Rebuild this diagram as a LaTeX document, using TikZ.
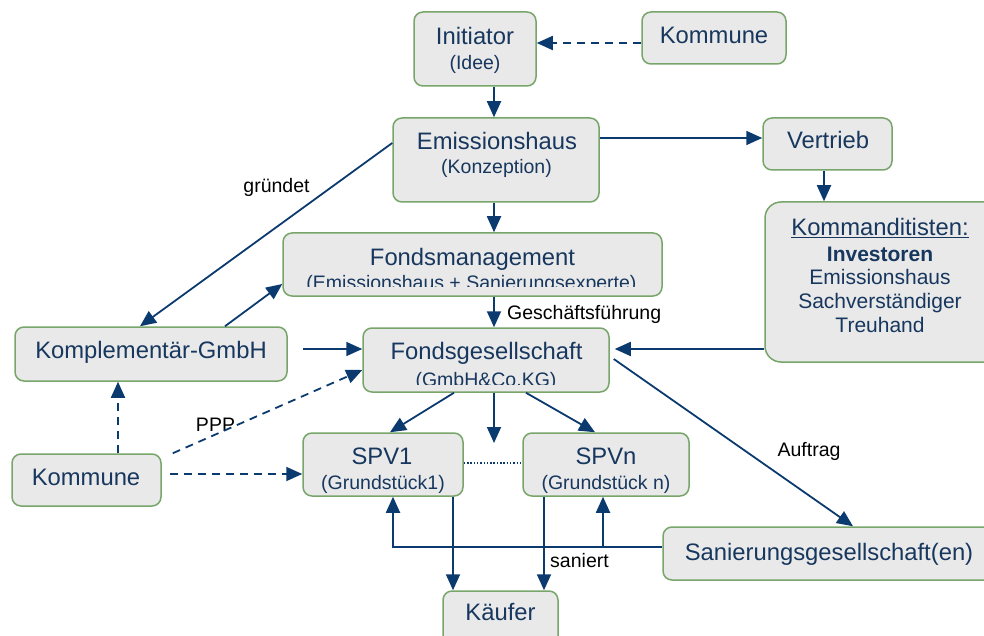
\documentclass[tikz,border=0pt]{standalone}
\usepackage{fontspec}
\setmainfont{Liberation Sans}
\usetikzlibrary{arrows.meta,calc}
\definecolor{navy}{HTML}{17375E}
\definecolor{arrowblue}{HTML}{0B3A6E}
\definecolor{boxgreen}{HTML}{77A56A}
\definecolor{boxgray}{HTML}{E9E9E9}
\tikzset{
  box/.style={draw=boxgreen, fill=boxgray, line width=1.5pt, rounded corners=9pt, inner sep=0pt},
  big/.style={text=navy, font=\fontsize{23.8}{28}\selectfont, inner sep=0pt, anchor=base},
  mid/.style={text=navy, font=\fontsize{21}{25}\selectfont, inner sep=0pt, anchor=base},
  small/.style={text=navy, font=\fontsize{19.5}{23}\selectfont, inner sep=0pt, anchor=base},
  lbl/.style={text=black, font=\fontsize{19.5}{23}\selectfont, inner sep=0pt, anchor=base},
  arr/.style={draw=arrowblue, line width=1.8pt, -{Triangle[length=16pt,width=14pt]}},
  dsh/.style={arr, dash pattern=on 8pt off 6pt},
  dotline/.style={draw=arrowblue, line width=1.2pt, dash pattern=on 1.5pt off 1.8pt},
}
\begin{document}
\begin{tikzpicture}[x=1pt,y=-1pt]
\useasboundingbox (0,0) rectangle (984,636);

% boxes
\node[box, minimum width=122pt, minimum height=74pt] (init) at (475,49) {};
\node[box, minimum width=144pt, minimum height=52pt] (kommT) at (714,38) {};
\node[box, minimum width=206pt, minimum height=84pt] (emis) at (496,160) {};
\node[box, minimum width=129pt, minimum height=52pt] (vert) at (827.5,144) {};
\node[box, minimum width=235pt, minimum height=160pt, rounded corners=16pt] (kmd) at (882.5,282) {};
\node[box, minimum width=379pt, minimum height=63pt] (fm) at (472.5,264.5) {};
\node[box, minimum width=246pt, minimum height=64pt] (fg) at (486,360) {};
\node[box, minimum width=272pt, minimum height=54pt] (kgmbh) at (151,354) {};
\node[box, minimum width=149pt, minimum height=52pt] (kommL) at (86.5,480) {};
\node[box, minimum width=160pt, minimum height=63pt] (spv1) at (383,464.5) {};
\node[box, minimum width=166pt, minimum height=63pt] (spvn) at (606,464.5) {};
\node[box, minimum width=115pt, minimum height=59pt] (kaeufer) at (500.5,620.5) {};
\node[box, minimum width=337pt, minimum height=53pt] (san) at (831.5,553.5) {};

% texts
\node[big] (tInit) at (475,45) {Initiator};
\node[small] (tIdee) at (475,70) {(Idee)};
\node[big] (tKommT) at (714,44) {Kommune};
\node[big] (tEmis) at (497,150) {Emissionshaus};
\node[small] (tKonz) at (496.5,174) {(Konzeption)};
\node[big] (tVert) at (828,149) {Vertrieb};
\node[big] (tKmd1) at (880,236) {\underline{Kommanditisten:}};
\node[mid, font=\fontsize{21}{25}\selectfont\bfseries] (tKmd2) at (880,261) {Investoren};
\node[mid] (tKmd3) at (880,284) {Emissionshaus};
\node[mid] (tKmd4) at (880,308) {Sachverständiger};
\node[mid] (tKmd5) at (880,332) {Treuhand};
\node[big] (tFm) at (472.5,265) {Fondsmanagement};
\begin{scope}
  \clip (283,233) rectangle (662,286);
  \node[small] (tFm2) at (471.5,289) {(Emissionshaus + Sanierungsexperte)};
\end{scope}
\node[lbl, anchor=base west] (tGf) at (507,319) {Geschäftsführung};
\node[big] (tFg) at (486.5,359) {Fondsgesellschaft};
\begin{scope}
  \clip (363,328) rectangle (609,384);
  \node[small] (tFg2) at (486,386) {(GmbH\&Co.KG)};
\end{scope}
\node[big] (tKg) at (151,358) {Komplementär-GmbH};
\node[big] (tKommL) at (86,485) {Kommune};
\node[lbl] (tPPP) at (215.5,431) {PPP};
\node[lbl] (tGr) at (276.5,193) {gründet};
\node[lbl] (tAuf) at (809,456) {Auftrag};
\node[big] (tSpv1) at (382,464) {SPV1};
\node[small] (tGs1) at (383,489) {(Grundstück1)};
\node[big] (tSpvn) at (606,464) {SPVn};
\node[small] (tGsn) at (606,489) {(Grundstück n)};
\node[big] (tKf) at (500.5,620) {Käufer};
\node[lbl] (tSan) at (579.5,567) {saniert};
\node[big] (tSg) at (829,560) {Sanierungsgesellschaft(en)};

% helper coordinates
\coordinate (ax) at (494,0);
\coordinate (k1) at ([yshift=-5pt]kommT.west);
\coordinate (e1) at ([yshift=6pt]vert.west);
\coordinate (v1) at ([xshift=-3.5pt]vert.south);
\coordinate (f1) at ([yshift=11pt]fg.west);
\coordinate (f2) at ([yshift=11pt,xshift=5pt]fg.east);
\coordinate (l1) at ([xshift=31.5pt]kommL.north);
\coordinate (l2) at ([yshift=6pt]kommL.east);
\coordinate (dn) at (494,443);
\coordinate (sj) at ([yshift=6.5pt]san.west);
\coordinate (s1) at ([xshift=10pt]spv1.south);
\coordinate (sn) at ([xshift=-3pt]spvn.south);
\coordinate (ka) at ([xshift=70pt]spv1.south);
\coordinate (kb) at ([xshift=-62pt]spvn.south);

% connectors
\draw[dsh] (k1) -- (k1 -| init.east);
\draw[arr] (ax |- init.south) -- (ax |- emis.north);
\draw[arr] (e1 -| emis.east) -- (e1);
\draw[arr] (v1) -- (v1 |- kmd.north);
\draw[arr] (ax |- emis.south) -- (ax |- fm.north);
\draw[arr] ([yshift=17pt]emis.west) -- ([xshift=-11pt]kgmbh.north);
\draw[arr] ([xshift=74pt]kgmbh.north) -- ([yshift=-19.5pt]fm.west);
\draw[arr] (ax |- fm.south) -- (ax |- fg.north);
\draw[arr] ($(f1 -| kgmbh.east)+(15,0)$) -- (f1);
\draw[arr] (f2 -| kmd.west) -- (f2);
\draw[dsh] ([xshift=11pt]kommL.north east) -- ([yshift=-10pt]fg.west);
\draw[dsh] (l1) -- (l1 |- kgmbh.south);
\draw[dsh] ($(l2)+(8,0)$) -- (l2 -| spv1.west);
\draw[arr] ([xshift=-32pt]fg.south) -- ([xshift=7pt]spv1.north);
\draw[arr] (ax |- fg.south) -- (dn);
\draw[arr] ([xshift=40pt]fg.south) -- ([xshift=-11pt]spvn.north);
\draw[arr] ([xshift=4pt,yshift=1pt]fg.east) -- ([xshift=21.5pt]san.north);
\draw[dotline] ([yshift=1.5pt]spv1.east) -- ([yshift=1.5pt]spvn.west);
\draw[arr] (sj) -- (sj -| s1) -- (s1);
\draw[arr] (sj -| sn) -- (sn);
\draw[arr] (ka) -- (ka |- kaeufer.north);
\draw[arr] (kb) -- (kb |- kaeufer.north);
\end{tikzpicture}
\end{document}
